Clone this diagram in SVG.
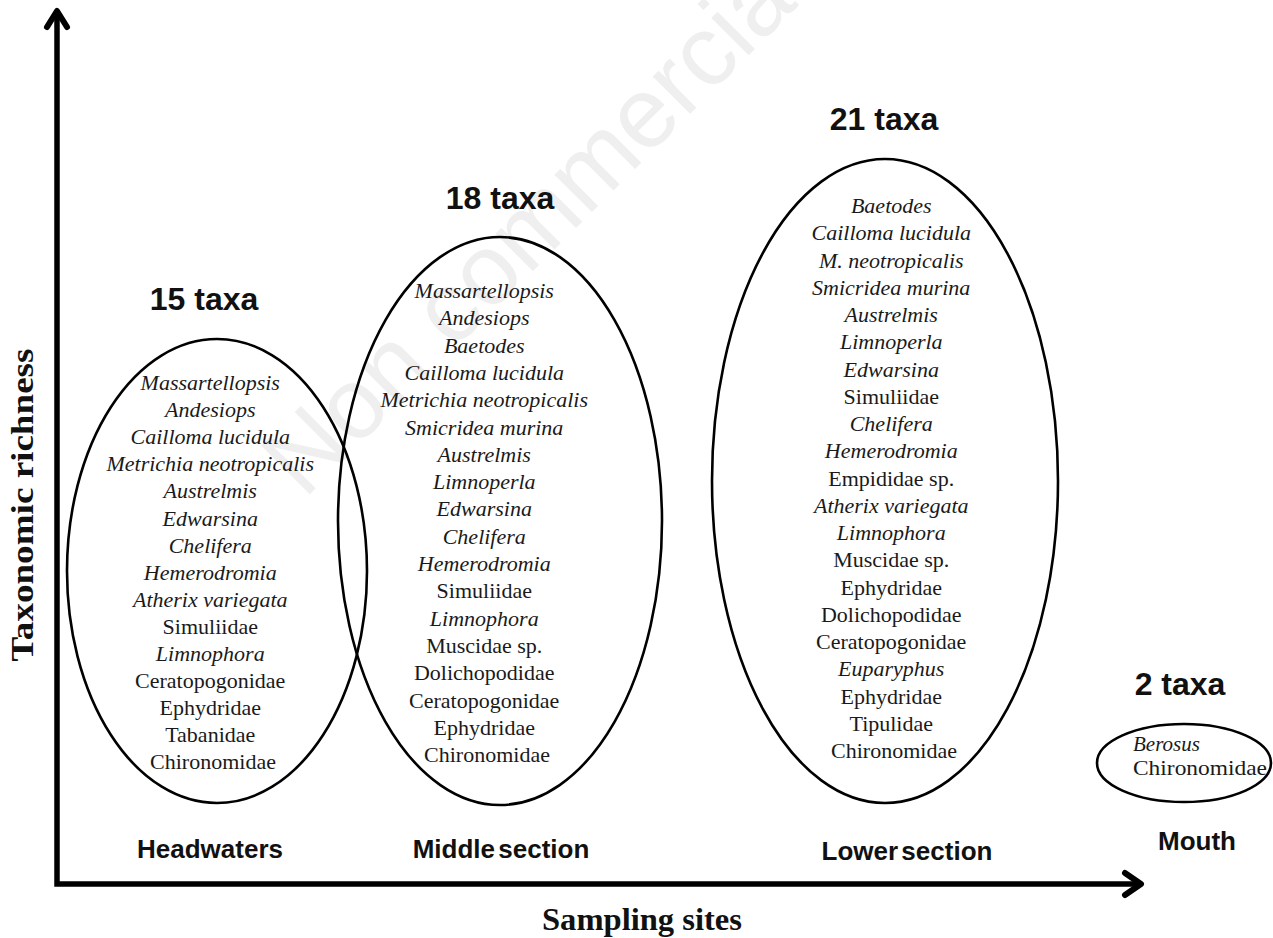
<svg xmlns="http://www.w3.org/2000/svg" width="1273" height="938" viewBox="0 0 1273 938">
<style>
.wm{font-family:"Liberation Sans",Arial,sans-serif;font-size:100px;fill:#efefef}
.cnt{font-family:"Liberation Sans",Arial,sans-serif;font-size:32px;font-weight:bold;fill:#111;text-anchor:middle}
.sec{font-family:"Liberation Sans",Arial,sans-serif;font-size:26px;font-weight:bold;fill:#111;text-anchor:middle;word-spacing:-4px}
.lst{font-family:"Liberation Serif","Times New Roman",serif;font-size:22px;fill:#1a1a1a;text-anchor:middle}
.lst .i{font-style:italic}
.ax{font-family:"Liberation Serif","Times New Roman",serif;font-size:31px;font-weight:bold;fill:#111;text-anchor:middle}
.ell{fill:none;stroke:#000;stroke-width:2.6}
.axis{fill:none;stroke:#000;stroke-width:5.5}
.head{fill:none;stroke:#000;stroke-width:6;stroke-linecap:round;stroke-linejoin:round}
</style>
<rect width="1273" height="938" fill="#fff"/>
<text class="wm" transform="translate(304,500) rotate(-45)">Non commercial</text>

<g id="connectors">
  <path class="axis" d="M57,14 L57,884 L1138,884"/>
  <path class="head" d="M47,27 L57,11 L67,27"/>
  <path class="head" d="M1125,873 L1141,884 L1125,895"/>
</g>

<g id="axis-labels">
  <text class="ax" transform="translate(33,505) rotate(-90)" textLength="313" lengthAdjust="spacingAndGlyphs">Taxonomic richness</text>
  <text class="ax" x="642" y="930" textLength="200" lengthAdjust="spacingAndGlyphs">Sampling sites</text>
</g>

<g id="headwaters">
  <ellipse class="ell" cx="217" cy="571" rx="150" ry="232"/>
  <text class="cnt" x="204" y="310">15 taxa</text>
  <text class="sec" x="210" y="858">Headwaters</text>
  <text class="lst">
    <tspan class="i" x="213" y="390">Massartellopsis</tspan>
    <tspan class="i" x="213" y="417.1">Andesiops</tspan>
    <tspan class="i" x="213" y="444.2">Cailloma lucidula</tspan>
    <tspan class="i" x="213" y="471.3">Metrichia neotropicalis</tspan>
    <tspan class="i" x="213" y="498.4">Austrelmis</tspan>
    <tspan class="i" x="213" y="525.5">Edwarsina</tspan>
    <tspan class="i" x="213" y="552.6">Chelifera</tspan>
    <tspan class="i" x="213" y="579.7">Hemerodromia</tspan>
    <tspan class="i" x="213" y="606.8">Atherix variegata</tspan>
    <tspan x="213" y="633.9">Simuliidae</tspan>
    <tspan class="i" x="213" y="661">Limnophora</tspan>
    <tspan x="213" y="688.1">Ceratopogonidae</tspan>
    <tspan x="213" y="715.2">Ephydridae</tspan>
    <tspan x="213" y="742.3">Tabanidae</tspan>
    <tspan x="213" y="769.4">Chironomidae</tspan>
  </text>
</g>

<g id="middle">
  <ellipse class="ell" cx="500" cy="521" rx="162" ry="284"/>
  <text class="cnt" x="500" y="209">18 taxa</text>
  <text class="sec" x="501" y="858">Middle section</text>
  <text class="lst">
    <tspan class="i" x="487" y="298">Massartellopsis</tspan>
    <tspan class="i" x="487" y="325.3">Andesiops</tspan>
    <tspan class="i" x="487" y="352.6">Baetodes</tspan>
    <tspan class="i" x="487" y="379.9">Cailloma lucidula</tspan>
    <tspan class="i" x="487" y="407.2">Metrichia neotropicalis</tspan>
    <tspan class="i" x="487" y="434.5">Smicridea murina</tspan>
    <tspan class="i" x="487" y="461.8">Austrelmis</tspan>
    <tspan class="i" x="487" y="489.1">Limnoperla</tspan>
    <tspan class="i" x="487" y="516.4">Edwarsina</tspan>
    <tspan class="i" x="487" y="543.7">Chelifera</tspan>
    <tspan class="i" x="487" y="571">Hemerodromia</tspan>
    <tspan x="487" y="598.3">Simuliidae</tspan>
    <tspan class="i" x="487" y="625.6">Limnophora</tspan>
    <tspan x="487" y="652.9">Muscidae sp.</tspan>
    <tspan x="487" y="680.2">Dolichopodidae</tspan>
    <tspan x="487" y="707.5">Ceratopogonidae</tspan>
    <tspan x="487" y="734.8">Ephydridae</tspan>
    <tspan x="487" y="762.1">Chironomidae</tspan>
  </text>
</g>

<g id="lower">
  <ellipse class="ell" cx="885" cy="481" rx="173" ry="322"/>
  <text class="cnt" x="884" y="130">21 taxa</text>
  <text class="sec" x="907" y="860">Lower section</text>
  <text class="lst">
    <tspan class="i" x="894" y="213">Baetodes</tspan>
    <tspan class="i" x="894" y="240.25">Cailloma lucidula</tspan>
    <tspan class="i" x="894" y="267.5">M. neotropicalis</tspan>
    <tspan class="i" x="894" y="294.75">Smicridea murina</tspan>
    <tspan class="i" x="894" y="322">Austrelmis</tspan>
    <tspan class="i" x="894" y="349.25">Limnoperla</tspan>
    <tspan class="i" x="894" y="376.5">Edwarsina</tspan>
    <tspan x="894" y="403.75">Simuliidae</tspan>
    <tspan class="i" x="894" y="431">Chelifera</tspan>
    <tspan class="i" x="894" y="458.25">Hemerodromia</tspan>
    <tspan x="894" y="485.5">Empididae sp.</tspan>
    <tspan class="i" x="894" y="512.75">Atherix variegata</tspan>
    <tspan class="i" x="894" y="540">Limnophora</tspan>
    <tspan x="894" y="567.25">Muscidae sp.</tspan>
    <tspan x="894" y="594.5">Ephydridae</tspan>
    <tspan x="894" y="621.75">Dolichopodidae</tspan>
    <tspan x="894" y="649">Ceratopogonidae</tspan>
    <tspan class="i" x="894" y="676.25">Euparyphus</tspan>
    <tspan x="894" y="703.5">Ephydridae</tspan>
    <tspan x="894" y="730.75">Tipulidae</tspan>
    <tspan x="894" y="758">Chironomidae</tspan>
  </text>
</g>

<g id="mouth">
  <ellipse class="ell" cx="1184" cy="763" rx="87" ry="39"/>
  <text class="cnt" x="1180" y="695">2 taxa</text>
  <text class="sec" x="1197" y="850">Mouth</text>
  <text class="lst" style="text-anchor:start;font-size:21px">
    <tspan class="i" x="1133" y="751">Berosus</tspan>
    <tspan x="1133" y="775" textLength="134" lengthAdjust="spacingAndGlyphs">Chironomidae</tspan>
  </text>
</g>
</svg>
